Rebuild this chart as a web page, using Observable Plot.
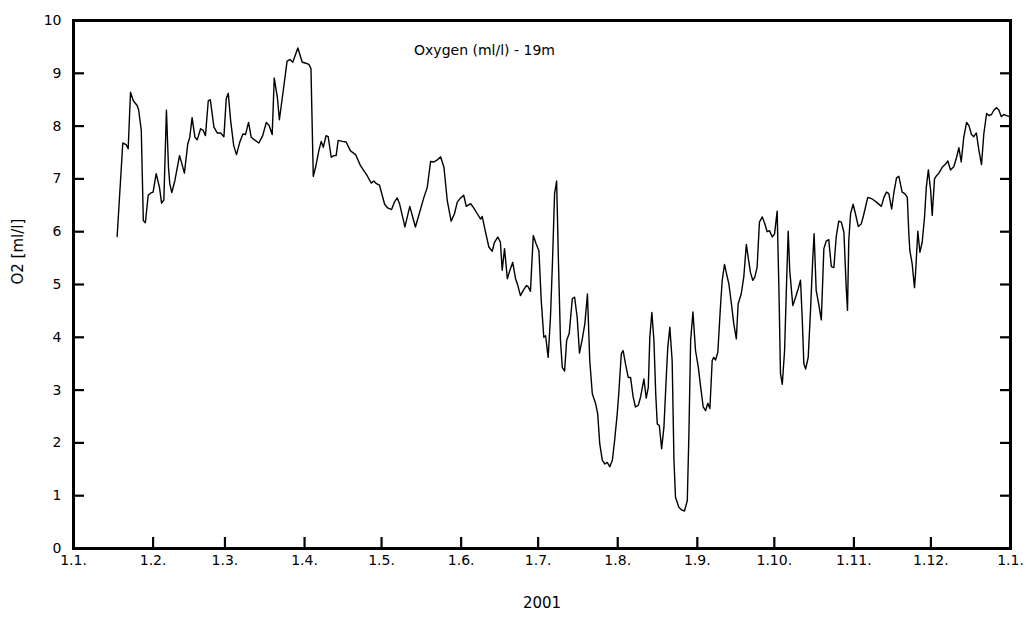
<!DOCTYPE html>
<html><head><meta charset="utf-8">
<script src="https://cdn.jsdelivr.net/npm/d3@7"></script>
<script src="https://cdn.jsdelivr.net/npm/@observablehq/plot@0.6"></script>
<style>
body{margin:0;background:#fff}
svg{font-family:"DejaVu Sans",sans-serif}
</style>
</head><body><div id="chart"></div>
<script>
const title = "Oxygen (ml/l) - 19m";
const xLabel = "2001";
const yLabel = "O2 [ml/l]";
const yTicks = [0,1,2,3,4,5,6,7,8,9,10];
const monthTicks = ["2001-01-01","2001-02-01","2001-03-01","2001-04-01","2001-05-01","2001-06-01","2001-07-01","2001-08-01","2001-09-01","2001-10-01","2001-11-01","2001-12-01","2002-01-01"];

// days since 1 Jan 2001
const dayOffset = [
 17.0,19.2,20.5,21.3,22.2,23.3,24.8,25.4,26.4,27.2,28.0,29.1,30.0,31.0,32.2,33.5,34.3,35.2,36.2,37.0,37.5,38.3,39.5,41.3,42.2,43.2,44.5,45.3,46.2,47.3,48.2,49.5,50.5,51.4,52.5,53.3,54.7,56.0,57.3,58.6,59.5,60.3,61.2,62.4,63.5,64.8,66.0,67.0,68.2,69.2,70.5,72.2,73.7,75.1,76.2,77.4,78.2,79.4,80.2,81.7,83.2,84.3,85.4,87.4,89.1,90.6,91.7,92.5,93.4,
 94.3,95.6,96.5,97.3,98.4,99.2,100.4,101.4,102.3,103.1,104.7,106.2,107.9,109.9,111.8,114.4,116.0,117.0,118.0,119.2,121.2,122.4,123.9,125.0,126.1,127.0,129.1,131.0,133.2,135.2,136.5,137.8,139.1,140.4,141.7,143.0,144.3,145.6,147.1,148.4,149.5,150.8,152.0,153.0,154.7,155.9,157.3,158.6,159.2,160.5,161.8,163.1,164.0,165.3,166.3,
 167.0,167.9,169.0,170.0,171.1,172.2,173.1,174.1,175.2,176.4,177.1,178.0,179.1,180.2,181.3,182.2,183.2,183.9,184.9,185.8,186.6,187.4,188.2,188.9,189.7,190.4,191.3,192.1,193.1,194.3,195.2,196.2,197.1,198.2,199.2,200.2,201.1,202.1,203.4,204.2,205.0,206.0,207.0,207.9,208.9,209.9,210.8,211.8,212.4,213.4,214.1,215.0,216.1,217.0,218.0,218.9,220.0,220.9,222.2,223.1,223.9,224.5,225.3,226.1,226.8,227.4,228.2,229.1,230.0,230.9,231.5,232.3,233.2,233.9,234.5,
 235.8,236.9,238.0,239.1,239.7,240.4,241.3,242.3,243.4,244.3,245.3,246.2,247.1,247.9,248.8,249.4,250.1,251.0,252.0,252.7,253.6,254.4,255.3,256.3,257.2,258.2,258.9,260.1,261.1,262.1,262.8,263.7,264.6,265.4,266.3,267.2,268.3,269.3,270.2,271.1,272.2,273.1,274.1,274.8,275.4,276.1,277.0,277.8,278.4,279.0,280.2,281.3,282.3,283.2,283.9,284.5,285.2,286.2,287.1,288.0,288.5,289.3,290.3,291.3,292.3,293.2,294.2,295.2,296.2,297.1,298.1,299.1,300.1,301.0,301.5,302.0,302.7,303.7,304.6,305.7,
 306.9,307.9,309.4,311.1,312.8,314.7,315.7,316.7,317.6,318.7,319.6,320.6,321.5,322.8,323.8,324.8,325.4,325.8,326.7,327.6,328.0,328.9,329.7,330.6,331.5,332.2,333.0,333.9,334.5,335.4,336.2,337.1,338.4,339.7,340.6,341.6,342.9,344.0,344.9,345.8,346.8,347.9,348.8,349.8,350.7,351.7,352.7,353.7,354.6,355.7,356.6,357.6,358.5,359.6,360.5,361.4,362.4,363.5,364.6,365.0
];
// oxygen, ml/l
const o2 = [
 5.91,7.68,7.65,7.57,8.64,8.48,8.39,8.30,7.92,6.21,6.17,6.69,6.73,6.75,7.10,6.84,6.54,6.60,8.30,7.22,6.91,6.74,6.97,7.44,7.29,7.11,7.66,7.79,8.16,7.79,7.74,7.95,7.92,7.82,8.48,8.50,7.98,7.87,7.87,7.80,8.52,8.62,8.11,7.63,7.46,7.70,7.85,7.84,8.07,7.79,7.74,7.68,7.82,8.07,8.01,7.84,8.91,8.55,8.12,8.67,9.23,9.26,9.21,9.48,9.21,9.19,9.17,9.09,7.05,
 7.22,7.54,7.71,7.60,7.82,7.80,7.41,7.44,7.44,7.73,7.71,7.70,7.53,7.46,7.25,7.06,6.92,6.96,6.91,6.88,6.52,6.45,6.42,6.56,6.64,6.53,6.09,6.48,6.09,6.43,6.65,6.84,7.33,7.32,7.36,7.42,7.22,6.59,6.20,6.34,6.56,6.64,6.69,6.48,6.53,6.45,6.34,6.24,6.29,5.99,5.71,5.63,5.80,5.90,5.80,
 5.27,5.68,5.11,5.27,5.42,5.11,4.98,4.79,4.89,4.98,4.96,4.87,5.93,5.77,5.64,4.70,4.00,4.03,3.62,4.38,5.45,6.72,6.96,5.45,3.94,3.43,3.36,3.94,4.07,4.73,4.76,4.38,3.70,3.97,4.26,4.82,3.56,2.93,2.74,2.55,1.98,1.67,1.60,1.63,1.55,1.67,2.05,2.55,2.93,3.69,3.75,3.50,3.24,3.24,2.87,2.68,2.71,2.87,3.21,2.85,3.05,4.00,4.47,3.94,2.93,2.36,2.33,1.89,2.30,3.24,3.81,4.19,3.56,1.67,0.97,
 0.78,0.73,0.71,0.91,2.11,3.94,4.48,3.75,3.43,3.06,2.68,2.61,2.75,2.65,3.56,3.62,3.57,3.72,4.57,5.08,5.38,5.20,5.01,4.63,4.26,3.97,4.63,4.82,5.14,5.76,5.52,5.23,5.08,5.14,5.33,6.18,6.28,6.15,6.00,6.02,5.90,5.96,6.39,4.89,3.31,3.11,3.75,5.08,6.01,5.27,4.60,4.76,4.92,5.08,4.32,3.50,3.40,3.62,4.51,5.52,5.96,4.89,4.63,4.33,5.68,5.82,5.85,5.34,5.32,5.90,6.20,6.18,5.99,4.95,4.51,5.83,6.34,6.52,6.34,6.10,
 6.15,6.34,6.65,6.62,6.56,6.48,6.65,6.75,6.72,6.43,6.75,7.02,7.05,6.75,6.72,6.65,5.96,5.64,5.39,4.94,5.20,6.01,5.61,5.80,6.27,6.84,7.17,6.78,6.31,7.00,7.06,7.11,7.22,7.28,7.34,7.17,7.23,7.41,7.59,7.32,7.79,8.07,8.01,7.84,7.80,7.87,7.54,7.27,7.85,8.24,8.20,8.22,8.30,8.35,8.30,8.18,8.22,8.20,8.18,8.16
];

const start = Date.UTC(2001, 0, 1);
const data = dayOffset.map((d, i) => ({date: new Date(start + d * 864e5), o2: o2[i]}));
const months = monthTicks.map(s => new Date(s + "T00:00:00Z"));
const fmt = d => `${d.getUTCDate()}.${d.getUTCMonth() + 1}.`;
const font = "DejaVu Sans";

const chart = Plot.plot({
  width: 1025, height: 618,
  marginLeft: 73, marginRight: 15, marginTop: 20, marginBottom: 70,
  style: {fontFamily: font, fontSize: "14px", color: "#000", background: "#fff"},
  x: {type: "utc", domain: [months[0], months[months.length - 1]], label: null},
  y: {domain: [0, 10], label: null},
  marks: [
    Plot.line(data, {x: "date", y: "o2", stroke: "#000", strokeWidth: 1.4}),
    Plot.axisX(months, {tickSize: -11, tickFormat: () => "", strokeWidth: 2.2, label: null}),
    Plot.axisX(months, {tickSize: 0, tickPadding: 7, tickFormat: fmt, fontSize: 14, label: null}),
    Plot.axisY(yTicks, {tickSize: -11, tickFormat: () => "", strokeWidth: 2.2, label: null}),
    Plot.axisY(yTicks, {anchor: "right", tickSize: -11, tickFormat: () => "", strokeWidth: 2.2, label: null}),
    Plot.axisY(yTicks, {tickSize: 0, tickPadding: 12, tickFormat: d => String(d), fontSize: 14, label: null}),
    Plot.frame({stroke: "#000", strokeWidth: 3}),
    Plot.text([title], {frameAnchor: "top-left", dx: 411, dy: 25, textAnchor: "middle", fontSize: 14}),
    Plot.text([yLabel], {frameAnchor: "left", rotate: -90, dx: -55, fontSize: 15}),
    Plot.text([xLabel], {frameAnchor: "bottom", dy: 59, fontSize: 15})
  ]
});
document.getElementById("chart").appendChild(chart);
</script>
</body></html>
